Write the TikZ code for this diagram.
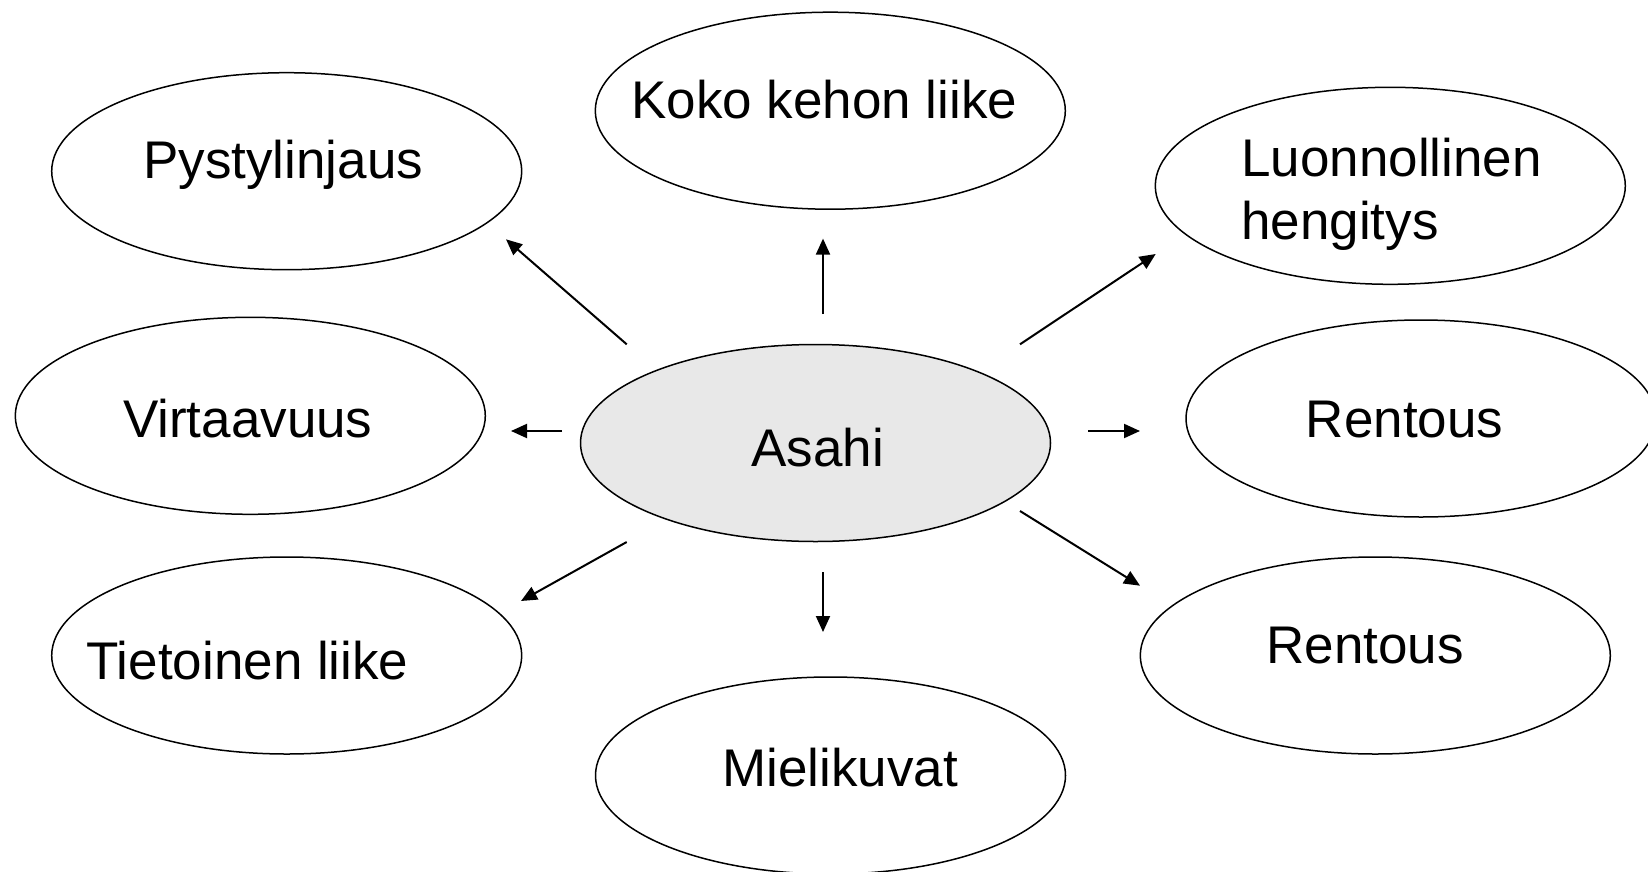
\documentclass[tikz,border=0pt]{standalone}
\usepackage{fontspec}
\setmainfont{Liberation Sans}
\usetikzlibrary{shapes.geometric,arrows.meta}
\definecolor{cfill}{HTML}{E8E8E8}
\begin{document}
\begin{tikzpicture}[x=1pt,y=-1pt,
  bub/.style={ellipse,draw,line width=1.5pt,minimum width=470pt,minimum height=197pt,inner sep=0pt},
  lbl/.style={font=\fontsize{53}{63}\selectfont,inner sep=0pt,anchor=base},
  conn/.style={line width=2pt,-{Triangle[length=16pt,width=14pt]}}]
\useasboundingbox (0,0) rectangle (1648,872);
% ellipses
\node[bub] (pys) at (286.7,171.2) {};
\node[bub] (koko) at (830.3,110.7) {};
\node[bub] (luon) at (1390.3,185.8) {};
\node[bub] (virt) at (250.3,415.8) {};
\node[bub,fill=cfill] (asahi) at (815.5,443) {};
\node[bub] (rent1) at (1421,418.5) {};
\node[bub] (tiet) at (286.7,655.5) {};
\node[bub] (rent2) at (1375.3,655.5) {};
\node[bub] (miel) at (830.5,775.5) {};
% labels
\node[lbl] (tpys) at (283.3,178.3) {Pystylinjaus};
\node[lbl] (tkoko) at (824.3,119) {Koko kehon liike};
\node[lbl,align=left,anchor=base west] (tluon) at (1241,239.5) {Luonnollinen\\hengitys};
\node[lbl] (tvirt) at (247.8,437.7) {Virtaavuus};
\node[lbl] (tasahi) at (817.7,466.7) {Asahi};
\node[lbl] (trent1) at (1404.5,437.7) {Rentous};
\node[lbl] (ttiet) at (247.5,679) {Tietoinen liike};
\node[lbl] (trent2) at (1365,663.3) {Rentous};
\node[lbl] (tmiel) at (840,786) {Mielikuvat};
% arrow end points
\coordinate (s1) at (626.7,344.3); \coordinate (e1) at (506,239.3);
\coordinate (s2) at (823,314);     \coordinate (e2) at (823,238.6);
\coordinate (s3) at (1020,344.3);  \coordinate (e3) at (1155.7,254);
\coordinate (s4) at (562,431);     \coordinate (e4) at (511,431);
\coordinate (s5) at (1088,431);    \coordinate (e5) at (1140,431);
\coordinate (s6) at (626.7,542);   \coordinate (e6) at (521,601);
\coordinate (s7) at (823,572);     \coordinate (e7) at (823,632);
\coordinate (s8) at (1020,511);    \coordinate (e8) at (1140,585.7);
\draw[conn] (s1) -- (e1);
\draw[conn] (s2) -- (e2);
\draw[conn] (s3) -- (e3);
\draw[conn] (s4) -- (e4);
\draw[conn] (s5) -- (e5);
\draw[conn] (s6) -- (e6);
\draw[conn] (s7) -- (e7);
\draw[conn] (s8) -- (e8);
\end{tikzpicture}
\end{document}
